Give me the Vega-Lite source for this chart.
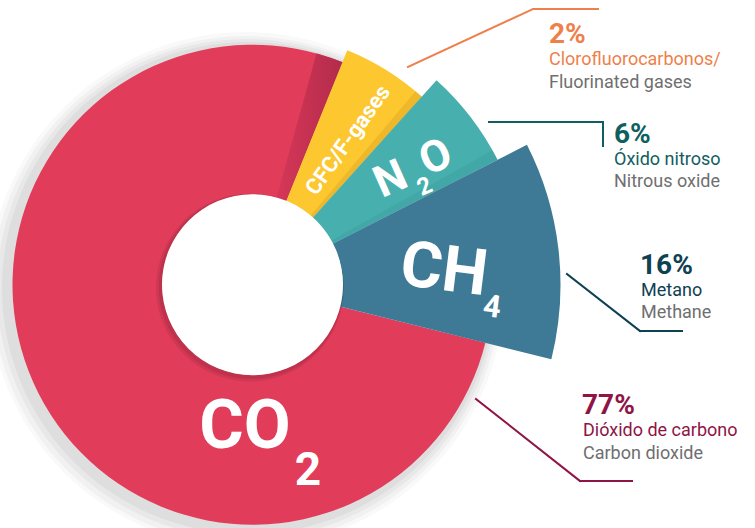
{
  "$schema": "https://vega.github.io/schema/vega-lite/v6.json",
  "width": 755,
  "height": 528,
  "autosize": "none",
  "padding": 0,
  "background": "white",
  "config": {"view": {"stroke": null}, "text": {"font": "Roboto"}},
  "data": {"values": [
    {"gas": "CO2", "pct": 0.77, "es": "Dióxido de carbono", "en": "Carbon dioxide", "deg": 278},
    {"gas": "CH4", "pct": 0.16, "es": "Metano", "en": "Methane", "deg": 41},
    {"gas": "N2O", "pct": 0.06, "es": "Óxido nitroso", "en": "Nitrous oxide", "deg": 21},
    {"gas": "CFC", "pct": 0.02, "es": "Clorofluorocarbonos/", "en": "Fluorinated gases", "deg": 20}
  ]},
  "transform": [
    {"stack": "deg", "groupby": [], "sort": [{"field": "deg", "order": "ascending"}], "as": ["t0", "t1"]}
  ],
  "layer": [
    {"transform": [{"filter": "datum.gas === 'CO2'"}],
     "mark": {"type": "arc", "theta": 0, "theta2": 6.2832, "outerRadius": 258, "innerRadius": 200, "color": "#000", "opacity": 0.025},
     "encoding": {"x": {"datum": 246, "type": "quantitative", "scale": {"domain": [0, 755], "nice": false}, "axis": null},
                  "y": {"datum": 290, "type": "quantitative", "scale": {"domain": [0, 528], "nice": false, "reverse": true}, "axis": null}}},
    {"transform": [{"filter": "datum.gas === 'CO2'"}],
     "mark": {"type": "arc", "theta": 0, "theta2": 6.2832, "outerRadius": 254, "innerRadius": 200, "color": "#000", "opacity": 0.03},
     "encoding": {"x": {"datum": 246, "type": "quantitative", "scale": {"domain": [0, 755], "nice": false}, "axis": null},
                  "y": {"datum": 290, "type": "quantitative", "scale": {"domain": [0, 528], "nice": false, "reverse": true}, "axis": null}}},
    {"transform": [{"filter": "datum.gas === 'CO2'"}],
     "mark": {"type": "arc", "theta": 0, "theta2": 6.2832, "outerRadius": 250, "innerRadius": 200, "color": "#000", "opacity": 0.035},
     "encoding": {"x": {"datum": 247, "type": "quantitative", "scale": {"domain": [0, 755], "nice": false}, "axis": null},
                  "y": {"datum": 289, "type": "quantitative", "scale": {"domain": [0, 528], "nice": false, "reverse": true}, "axis": null}}},
    {"transform": [{"filter": "datum.gas === 'CO2'"}],
     "mark": {"type": "arc", "theta": 0, "theta2": 6.2832, "outerRadius": 246, "innerRadius": 200, "color": "#000", "opacity": 0.045},
     "encoding": {"x": {"datum": 248, "type": "quantitative", "scale": {"domain": [0, 755], "nice": false}, "axis": null},
                  "y": {"datum": 288, "type": "quantitative", "scale": {"domain": [0, 528], "nice": false, "reverse": true}, "axis": null}}},
    {"transform": [{"filter": "datum.gas === 'CO2'"}],
     "mark": {"type": "arc", "outerRadius": 240, "innerRadius": 90},
     "encoding": {
       "theta": {"field": "t0", "type": "quantitative", "scale": {"domain": [0, 360], "range": [0.384, 6.667]}},
       "theta2": {"field": "t1"},
       "color": {"field": "gas", "type": "nominal", "scale": {"domain": ["CO2", "CH4", "N2O", "CFC"], "range": ["#E23C5B", "#3E7A96", "#48AFAF", "#FCC72F"]}, "legend": null},
       "x": {"datum": 252.5, "type": "quantitative", "scale": {"domain": [0, 755], "nice": false}, "axis": null},
       "y": {"datum": 284.7, "type": "quantitative", "scale": {"domain": [0, 528], "nice": false, "reverse": true}, "axis": null}}},
    {"transform": [{"filter": "datum.gas === 'CO2'"}],
     "mark": {"type": "arc", "theta": 0.27, "theta2": 0.386, "outerRadius": 240, "innerRadius": 90,
              "color": {"gradient": "linear", "x1": 0, "y1": 0, "x2": 1, "y2": 0, "stops": [{"offset": 0, "color": "#D63758"}, {"offset": 1, "color": "#B32B4B"}]}},
     "encoding": {"x": {"datum": 252.5, "type": "quantitative", "scale": {"domain": [0, 755], "nice": false}, "axis": null},
                  "y": {"datum": 284.7, "type": "quantitative", "scale": {"domain": [0, 528], "nice": false, "reverse": true}, "axis": null}}},
    {"transform": [{"filter": "datum.gas === 'CFC'"}],
     "mark": {"type": "arc", "outerRadius": 253, "innerRadius": 90},
     "encoding": {
       "theta": {"field": "t0", "type": "quantitative", "scale": {"domain": [0, 360], "range": [0.384, 6.667]}},
       "theta2": {"field": "t1"},
       "color": {"field": "gas", "type": "nominal", "scale": {"domain": ["CO2", "CH4", "N2O", "CFC"], "range": ["#E23C5B", "#3E7A96", "#48AFAF", "#FCC72F"]}, "legend": null},
       "x": {"datum": 252.5, "type": "quantitative", "scale": {"domain": [0, 755], "nice": false}, "axis": null},
       "y": {"datum": 284.7, "type": "quantitative", "scale": {"domain": [0, 528], "nice": false, "reverse": true}, "axis": null}}},
    {"transform": [{"filter": "datum.gas === 'CFC'"}],
     "mark": {"type": "arc", "theta": 0.70, "theta2": 0.735, "outerRadius": 253, "innerRadius": 90, "color": "#E4AC27", "opacity": 0.55},
     "encoding": {"x": {"datum": 252.5, "type": "quantitative", "scale": {"domain": [0, 755], "nice": false}, "axis": null},
                  "y": {"datum": 284.7, "type": "quantitative", "scale": {"domain": [0, 528], "nice": false, "reverse": true}, "axis": null}}},
    {"transform": [{"filter": "datum.gas === 'N2O'"}],
     "mark": {"type": "arc", "outerRadius": 275, "innerRadius": 90},
     "encoding": {
       "theta": {"field": "t0", "type": "quantitative", "scale": {"domain": [0, 360], "range": [0.384, 6.667]}},
       "theta2": {"field": "t1"},
       "color": {"field": "gas", "type": "nominal", "scale": {"domain": ["CO2", "CH4", "N2O", "CFC"], "range": ["#E23C5B", "#3E7A96", "#48AFAF", "#FCC72F"]}, "legend": null},
       "x": {"datum": 252.5, "type": "quantitative", "scale": {"domain": [0, 755], "nice": false}, "axis": null},
       "y": {"datum": 284.7, "type": "quantitative", "scale": {"domain": [0, 528], "nice": false, "reverse": true}, "axis": null}}},
    {"transform": [{"filter": "datum.gas === 'N2O'"}],
     "mark": {"type": "arc", "theta": 1.06, "theta2": 1.1, "outerRadius": 275, "innerRadius": 90, "color": "#3A9A9C", "opacity": 0.4},
     "encoding": {"x": {"datum": 252.5, "type": "quantitative", "scale": {"domain": [0, 755], "nice": false}, "axis": null},
                  "y": {"datum": 284.7, "type": "quantitative", "scale": {"domain": [0, 528], "nice": false, "reverse": true}, "axis": null}}},
    {"transform": [{"filter": "datum.gas === 'CH4'"}],
     "mark": {"type": "arc", "outerRadius": 308, "innerRadius": 90},
     "encoding": {
       "theta": {"field": "t0", "type": "quantitative", "scale": {"domain": [0, 360], "range": [0.384, 6.667]}},
       "theta2": {"field": "t1"},
       "color": {"field": "gas", "type": "nominal", "scale": {"domain": ["CO2", "CH4", "N2O", "CFC"], "range": ["#E23C5B", "#3E7A96", "#48AFAF", "#FCC72F"]}, "legend": null},
       "x": {"datum": 252.5, "type": "quantitative", "scale": {"domain": [0, 755], "nice": false}, "axis": null},
       "y": {"datum": 284.7, "type": "quantitative", "scale": {"domain": [0, 528], "nice": false, "reverse": true}, "axis": null}}},
    {"transform": [{"filter": "datum.gas === 'CO2'"}],
     "mark": {"type": "arc", "theta": 0, "theta2": 6.2832, "outerRadius": 94, "innerRadius": 0, "color": "#000", "opacity": 0.08},
     "encoding": {"x": {"datum": 250, "type": "quantitative", "scale": {"domain": [0, 755], "nice": false}, "axis": null},
                  "y": {"datum": 287.5, "type": "quantitative", "scale": {"domain": [0, 528], "nice": false, "reverse": true}, "axis": null}}},
    {"transform": [{"filter": "datum.gas === 'CO2'"}],
     "mark": {"type": "arc", "theta": 0, "theta2": 6.2832, "outerRadius": 92.5, "innerRadius": 0, "color": "#000", "opacity": 0.08},
     "encoding": {"x": {"datum": 251, "type": "quantitative", "scale": {"domain": [0, 755], "nice": false}, "axis": null},
                  "y": {"datum": 286.5, "type": "quantitative", "scale": {"domain": [0, 528], "nice": false, "reverse": true}, "axis": null}}},
    {"transform": [{"filter": "datum.gas === 'CO2'"}],
     "mark": {"type": "arc", "theta": 0, "theta2": 6.2832, "outerRadius": 90.5, "innerRadius": 0, "color": "#FFFFFF"},
     "encoding": {"x": {"datum": 252.5, "type": "quantitative", "scale": {"domain": [0, 755], "nice": false}, "axis": null},
                  "y": {"datum": 284.7, "type": "quantitative", "scale": {"domain": [0, 528], "nice": false, "reverse": true}, "axis": null}}},

    {"transform": [{"filter": "datum.gas === 'CFC'"}],
     "mark": {"type": "text", "text": "CFC/F-gases", "align": "center", "baseline": "middle", "angle": 305.5, "fontSize": 22, "fontWeight": "bold", "color": "white"},
     "encoding": {"x": {"datum": 348, "type": "quantitative", "scale": {"domain": [0, 755], "nice": false}, "axis": null},
                  "y": {"datum": 140, "type": "quantitative", "scale": {"domain": [0, 528], "nice": false, "reverse": true}, "axis": null}}},
    {"transform": [{"filter": "datum.gas === 'N2O'"}],
     "mark": {"type": "text", "text": "N", "align": "center", "baseline": "middle", "angle": 336, "fontSize": 44, "fontWeight": "bold", "color": "white"},
     "encoding": {"x": {"datum": 391, "type": "quantitative", "scale": {"domain": [0, 755], "nice": false}, "axis": null},
                  "y": {"datum": 180, "type": "quantitative", "scale": {"domain": [0, 528], "nice": false, "reverse": true}, "axis": null}}},
    {"transform": [{"filter": "datum.gas === 'N2O'"}],
     "mark": {"type": "text", "text": "2", "align": "center", "baseline": "middle", "angle": 336, "fontSize": 24, "fontWeight": "bold", "color": "white"},
     "encoding": {"x": {"datum": 425, "type": "quantitative", "scale": {"domain": [0, 755], "nice": false}, "axis": null},
                  "y": {"datum": 187, "type": "quantitative", "scale": {"domain": [0, 528], "nice": false, "reverse": true}, "axis": null}}},
    {"transform": [{"filter": "datum.gas === 'N2O'"}],
     "mark": {"type": "text", "text": "O", "align": "center", "baseline": "middle", "angle": 336, "fontSize": 44, "fontWeight": "bold", "color": "white"},
     "encoding": {"x": {"datum": 436, "type": "quantitative", "scale": {"domain": [0, 755], "nice": false}, "axis": null},
                  "y": {"datum": 158, "type": "quantitative", "scale": {"domain": [0, 528], "nice": false, "reverse": true}, "axis": null}}},
    {"transform": [{"filter": "datum.gas === 'CH4'"}],
     "mark": {"type": "text", "text": "CH", "align": "center", "baseline": "middle", "angle": 7, "fontSize": 64, "fontWeight": "bold", "color": "white"},
     "encoding": {"x": {"datum": 444, "type": "quantitative", "scale": {"domain": [0, 755], "nice": false}, "axis": null},
                  "y": {"datum": 271, "type": "quantitative", "scale": {"domain": [0, 528], "nice": false, "reverse": true}, "axis": null}}},
    {"transform": [{"filter": "datum.gas === 'CH4'"}],
     "mark": {"type": "text", "text": "4", "align": "center", "baseline": "middle", "angle": 7, "fontSize": 31, "fontWeight": "bold", "color": "white"},
     "encoding": {"x": {"datum": 492, "type": "quantitative", "scale": {"domain": [0, 755], "nice": false}, "axis": null},
                  "y": {"datum": 308, "type": "quantitative", "scale": {"domain": [0, 528], "nice": false, "reverse": true}, "axis": null}}},
    {"transform": [{"filter": "datum.gas === 'CO2'"}],
     "mark": {"type": "text", "text": "CO", "align": "center", "baseline": "middle", "fontSize": 68, "fontWeight": "bold", "color": "white"},
     "encoding": {"x": {"datum": 245, "type": "quantitative", "scale": {"domain": [0, 755], "nice": false}, "axis": null},
                  "y": {"datum": 428, "type": "quantitative", "scale": {"domain": [0, 528], "nice": false, "reverse": true}, "axis": null}}},
    {"transform": [{"filter": "datum.gas === 'CO2'"}],
     "mark": {"type": "text", "text": "2", "align": "center", "baseline": "middle", "fontSize": 46, "fontWeight": "bold", "color": "white"},
     "encoding": {"x": {"datum": 308, "type": "quantitative", "scale": {"domain": [0, 755], "nice": false}, "axis": null},
                  "y": {"datum": 471, "type": "quantitative", "scale": {"domain": [0, 528], "nice": false, "reverse": true}, "axis": null}}},

    {"transform": [{"filter": "datum.gas === 'CFC'"}],
     "mark": {"type": "rule", "color": "#EF7F4B", "strokeWidth": 2, "strokeCap": "square"},
     "encoding": {"x": {"datum": 408, "type": "quantitative", "scale": {"domain": [0, 755], "nice": false}, "axis": null},
                  "y": {"datum": 67, "type": "quantitative", "scale": {"domain": [0, 528], "nice": false, "reverse": true}, "axis": null},
                  "x2": {"datum": 533}, "y2": {"datum": 9}}},
    {"transform": [{"filter": "datum.gas === 'CFC'"}],
     "mark": {"type": "rule", "color": "#EF7F4B", "strokeWidth": 2, "strokeCap": "square"},
     "encoding": {"x": {"datum": 533, "type": "quantitative", "scale": {"domain": [0, 755], "nice": false}, "axis": null},
                  "y": {"datum": 9, "type": "quantitative", "scale": {"domain": [0, 528], "nice": false, "reverse": true}, "axis": null},
                  "x2": {"datum": 598}, "y2": {"datum": 9}}},
    {"transform": [{"filter": "datum.gas === 'N2O'"}],
     "mark": {"type": "rule", "color": "#0F5E60", "strokeWidth": 2, "strokeCap": "square"},
     "encoding": {"x": {"datum": 489, "type": "quantitative", "scale": {"domain": [0, 755], "nice": false}, "axis": null},
                  "y": {"datum": 122, "type": "quantitative", "scale": {"domain": [0, 528], "nice": false, "reverse": true}, "axis": null},
                  "x2": {"datum": 603}, "y2": {"datum": 122}}},
    {"transform": [{"filter": "datum.gas === 'N2O'"}],
     "mark": {"type": "rule", "color": "#0F5E60", "strokeWidth": 2, "strokeCap": "square"},
     "encoding": {"x": {"datum": 603, "type": "quantitative", "scale": {"domain": [0, 755], "nice": false}, "axis": null},
                  "y": {"datum": 122, "type": "quantitative", "scale": {"domain": [0, 528], "nice": false, "reverse": true}, "axis": null},
                  "x2": {"datum": 603}, "y2": {"datum": 146}}},
    {"transform": [{"filter": "datum.gas === 'CH4'"}],
     "mark": {"type": "rule", "color": "#0E4152", "strokeWidth": 2, "strokeCap": "square"},
     "encoding": {"x": {"datum": 567, "type": "quantitative", "scale": {"domain": [0, 755], "nice": false}, "axis": null},
                  "y": {"datum": 274, "type": "quantitative", "scale": {"domain": [0, 528], "nice": false, "reverse": true}, "axis": null},
                  "x2": {"datum": 640}, "y2": {"datum": 331}}},
    {"transform": [{"filter": "datum.gas === 'CH4'"}],
     "mark": {"type": "rule", "color": "#0E4152", "strokeWidth": 2, "strokeCap": "square"},
     "encoding": {"x": {"datum": 640, "type": "quantitative", "scale": {"domain": [0, 755], "nice": false}, "axis": null},
                  "y": {"datum": 331, "type": "quantitative", "scale": {"domain": [0, 528], "nice": false, "reverse": true}, "axis": null},
                  "x2": {"datum": 682}, "y2": {"datum": 331}}},
    {"transform": [{"filter": "datum.gas === 'CO2'"}],
     "mark": {"type": "rule", "color": "#8E1546", "strokeWidth": 2, "strokeCap": "square"},
     "encoding": {"x": {"datum": 476, "type": "quantitative", "scale": {"domain": [0, 755], "nice": false}, "axis": null},
                  "y": {"datum": 399, "type": "quantitative", "scale": {"domain": [0, 528], "nice": false, "reverse": true}, "axis": null},
                  "x2": {"datum": 580}, "y2": {"datum": 481}}},
    {"transform": [{"filter": "datum.gas === 'CO2'"}],
     "mark": {"type": "rule", "color": "#8E1546", "strokeWidth": 2, "strokeCap": "square"},
     "encoding": {"x": {"datum": 580, "type": "quantitative", "scale": {"domain": [0, 755], "nice": false}, "axis": null},
                  "y": {"datum": 481, "type": "quantitative", "scale": {"domain": [0, 528], "nice": false, "reverse": true}, "axis": null},
                  "x2": {"datum": 632}, "y2": {"datum": 481}}},

    {"transform": [{"filter": "datum.gas === 'CFC'"}],
     "mark": {"type": "text", "align": "left", "baseline": "alphabetic", "fontSize": 28, "fontWeight": "bold", "color": "#EF7F4B"},
     "encoding": {"x": {"datum": 549, "type": "quantitative", "scale": {"domain": [0, 755], "nice": false}, "axis": null},
                  "y": {"datum": 43, "type": "quantitative", "scale": {"domain": [0, 528], "nice": false, "reverse": true}, "axis": null},
                  "text": {"field": "pct", "type": "quantitative", "format": ".0%"}}},
    {"transform": [{"filter": "datum.gas === 'CFC'"}],
     "mark": {"type": "text", "align": "left", "baseline": "alphabetic", "fontSize": 18, "color": "#EF7F4B"},
     "encoding": {"x": {"datum": 549, "type": "quantitative", "scale": {"domain": [0, 755], "nice": false}, "axis": null},
                  "y": {"datum": 65, "type": "quantitative", "scale": {"domain": [0, 528], "nice": false, "reverse": true}, "axis": null},
                  "text": {"field": "es", "type": "nominal"}}},
    {"transform": [{"filter": "datum.gas === 'CFC'"}],
     "mark": {"type": "text", "align": "left", "baseline": "alphabetic", "fontSize": 18, "color": "#6F6F6F"},
     "encoding": {"x": {"datum": 549, "type": "quantitative", "scale": {"domain": [0, 755], "nice": false}, "axis": null},
                  "y": {"datum": 88, "type": "quantitative", "scale": {"domain": [0, 528], "nice": false, "reverse": true}, "axis": null},
                  "text": {"field": "en", "type": "nominal"}}},

    {"transform": [{"filter": "datum.gas === 'N2O'"}],
     "mark": {"type": "text", "align": "left", "baseline": "alphabetic", "fontSize": 28, "fontWeight": "bold", "color": "#0F5E60"},
     "encoding": {"x": {"datum": 614, "type": "quantitative", "scale": {"domain": [0, 755], "nice": false}, "axis": null},
                  "y": {"datum": 143, "type": "quantitative", "scale": {"domain": [0, 528], "nice": false, "reverse": true}, "axis": null},
                  "text": {"field": "pct", "type": "quantitative", "format": ".0%"}}},
    {"transform": [{"filter": "datum.gas === 'N2O'"}],
     "mark": {"type": "text", "align": "left", "baseline": "alphabetic", "fontSize": 18, "color": "#0F5E60"},
     "encoding": {"x": {"datum": 614, "type": "quantitative", "scale": {"domain": [0, 755], "nice": false}, "axis": null},
                  "y": {"datum": 165, "type": "quantitative", "scale": {"domain": [0, 528], "nice": false, "reverse": true}, "axis": null},
                  "text": {"field": "es", "type": "nominal"}}},
    {"transform": [{"filter": "datum.gas === 'N2O'"}],
     "mark": {"type": "text", "align": "left", "baseline": "alphabetic", "fontSize": 18, "color": "#6F6F6F"},
     "encoding": {"x": {"datum": 614, "type": "quantitative", "scale": {"domain": [0, 755], "nice": false}, "axis": null},
                  "y": {"datum": 187, "type": "quantitative", "scale": {"domain": [0, 528], "nice": false, "reverse": true}, "axis": null},
                  "text": {"field": "en", "type": "nominal"}}},

    {"transform": [{"filter": "datum.gas === 'CH4'"}],
     "mark": {"type": "text", "align": "left", "baseline": "alphabetic", "fontSize": 28, "fontWeight": "bold", "color": "#0E4152"},
     "encoding": {"x": {"datum": 640, "type": "quantitative", "scale": {"domain": [0, 755], "nice": false}, "axis": null},
                  "y": {"datum": 274, "type": "quantitative", "scale": {"domain": [0, 528], "nice": false, "reverse": true}, "axis": null},
                  "text": {"field": "pct", "type": "quantitative", "format": ".0%"}}},
    {"transform": [{"filter": "datum.gas === 'CH4'"}],
     "mark": {"type": "text", "align": "left", "baseline": "alphabetic", "fontSize": 18, "color": "#0E4152"},
     "encoding": {"x": {"datum": 641, "type": "quantitative", "scale": {"domain": [0, 755], "nice": false}, "axis": null},
                  "y": {"datum": 296, "type": "quantitative", "scale": {"domain": [0, 528], "nice": false, "reverse": true}, "axis": null},
                  "text": {"field": "es", "type": "nominal"}}},
    {"transform": [{"filter": "datum.gas === 'CH4'"}],
     "mark": {"type": "text", "align": "left", "baseline": "alphabetic", "fontSize": 18, "color": "#6F6F6F"},
     "encoding": {"x": {"datum": 641, "type": "quantitative", "scale": {"domain": [0, 755], "nice": false}, "axis": null},
                  "y": {"datum": 318, "type": "quantitative", "scale": {"domain": [0, 528], "nice": false, "reverse": true}, "axis": null},
                  "text": {"field": "en", "type": "nominal"}}},

    {"transform": [{"filter": "datum.gas === 'CO2'"}],
     "mark": {"type": "text", "align": "left", "baseline": "alphabetic", "fontSize": 28, "fontWeight": "bold", "color": "#8E1546"},
     "encoding": {"x": {"datum": 582, "type": "quantitative", "scale": {"domain": [0, 755], "nice": false}, "axis": null},
                  "y": {"datum": 414, "type": "quantitative", "scale": {"domain": [0, 528], "nice": false, "reverse": true}, "axis": null},
                  "text": {"field": "pct", "type": "quantitative", "format": ".0%"}}},
    {"transform": [{"filter": "datum.gas === 'CO2'"}],
     "mark": {"type": "text", "align": "left", "baseline": "alphabetic", "fontSize": 18, "color": "#8E1546"},
     "encoding": {"x": {"datum": 583, "type": "quantitative", "scale": {"domain": [0, 755], "nice": false}, "axis": null},
                  "y": {"datum": 436, "type": "quantitative", "scale": {"domain": [0, 528], "nice": false, "reverse": true}, "axis": null},
                  "text": {"field": "es", "type": "nominal"}}},
    {"transform": [{"filter": "datum.gas === 'CO2'"}],
     "mark": {"type": "text", "align": "left", "baseline": "alphabetic", "fontSize": 18, "color": "#6F6F6F"},
     "encoding": {"x": {"datum": 583, "type": "quantitative", "scale": {"domain": [0, 755], "nice": false}, "axis": null},
                  "y": {"datum": 459, "type": "quantitative", "scale": {"domain": [0, 528], "nice": false, "reverse": true}, "axis": null},
                  "text": {"field": "en", "type": "nominal"}}}
  ]
}
